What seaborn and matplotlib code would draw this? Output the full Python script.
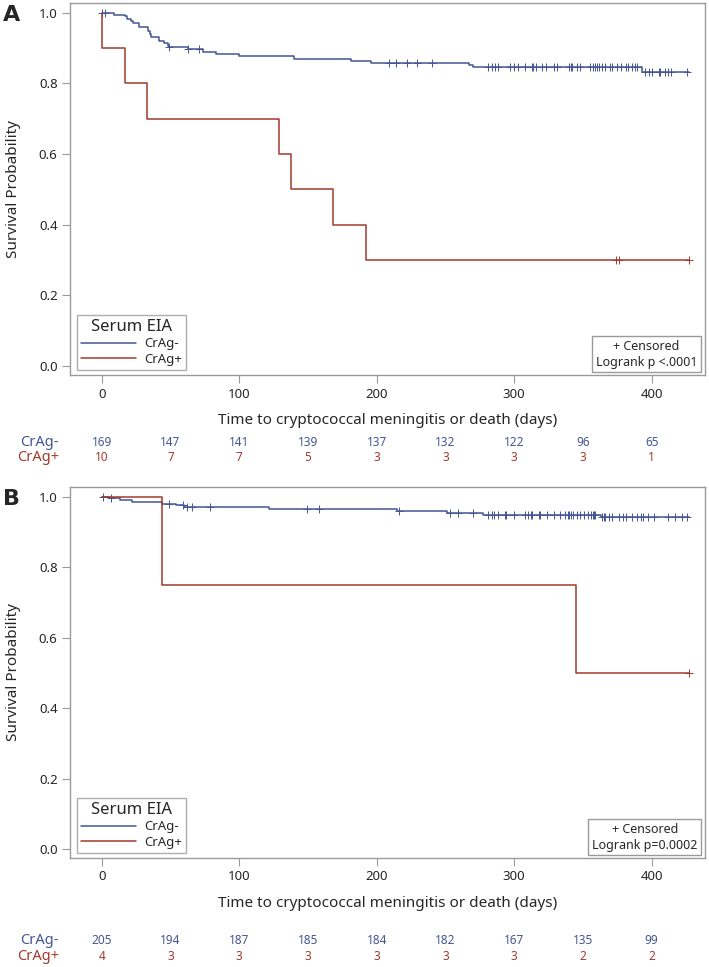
import numpy as np
import matplotlib
matplotlib.use("Agg")
import matplotlib.pyplot as plt
import matplotlib.transforms as mtransforms
from matplotlib.lines import Line2D
import seaborn as sns

sns.set_style("white")
plt.rcParams["font.family"] = ["Noto Sans", "DejaVu Sans"]

BLUE = "#445694"
RED = "#A23A2E"
GRAY = "#9a9a9a"

# ------------------------------------------------------------------
# Data
# ------------------------------------------------------------------
risk_times = [0, 50, 100, 150, 200, 250, 300, 350, 400]

# Panel A
a_neg_time = [0, 9, 17, 18, 21, 23, 27, 34, 35, 36, 42, 45, 48, 49, 63, 74, 83,
              100, 140, 181, 196, 267, 270, 393, 427]
a_neg_surv = [1.0, 0.993, 0.989, 0.982, 0.976, 0.970, 0.958, 0.949, 0.938, 0.932,
              0.920, 0.913, 0.906, 0.902, 0.896, 0.889, 0.883, 0.877, 0.870, 0.864,
              0.858, 0.852, 0.845, 0.831, 0.831]
a_neg_cens = [0, 2, 49, 63, 71, 209, 214, 222, 229, 240, 281, 284, 286, 288, 297,
              300, 303, 308, 313, 314, 316, 320, 323, 329, 331, 340, 341, 342, 346,
              348, 355, 357, 359, 360, 362, 364, 366, 370, 371, 375, 378, 381, 383,
              386, 388, 389, 395, 398, 400, 405, 406, 410, 412, 414, 426]
a_pos_time = [0, 0, 17, 33, 129, 138, 168, 192, 427]
a_pos_surv = [1.0, 0.9, 0.8, 0.7, 0.6, 0.5, 0.4, 0.3, 0.3]
a_pos_cens = [374, 376, 427]
a_risk_neg = [169, 147, 141, 139, 137, 132, 122, 96, 65]
a_risk_pos = [10, 7, 7, 5, 3, 3, 3, 3, 1]
a_pvalue = "Logrank p <.0001"

# Panel B
b_neg_time = [0, 5, 13, 22, 44, 54, 60, 122, 215, 251, 277, 363, 427]
b_neg_surv = [1.0, 0.997, 0.991, 0.985, 0.980, 0.975, 0.970, 0.964, 0.960, 0.954,
              0.949, 0.941, 0.941]
b_neg_cens = [1, 7, 49, 59, 62, 66, 79, 149, 158, 216, 253, 259, 270, 281, 284, 285,
              288, 293, 294, 300, 308, 310, 312, 313, 318, 319, 324, 329, 333, 337,
              339, 340, 341, 343, 346, 348, 351, 354, 356, 357, 358, 359, 364, 365,
              366, 369, 371, 376, 379, 381, 386, 389, 392, 394, 397, 402, 412, 417,
              422, 426]
b_pos_time = [0, 44, 345, 427]
b_pos_surv = [1.0, 0.75, 0.5, 0.5]
b_pos_cens = [427]
b_risk_neg = [205, 194, 187, 185, 184, 182, 167, 135, 99]
b_risk_pos = [4, 3, 3, 3, 3, 3, 3, 2, 2]
b_pvalue = "Logrank p=0.0002"

# ------------------------------------------------------------------
W, H = 709, 967
fig = plt.figure(figsize=(W / 100, H / 100), dpi=100)


def px_axes(left, top, right, bottom):
    return fig.add_axes([left / W, 1 - bottom / H, (right - left) / W, (bottom - top) / H])


def surv_at(times, surv, t):
    idx = np.searchsorted(np.array(times), t, side="right") - 1
    return np.array(surv)[idx]


def km_panel(ax, letter, neg_t, neg_s, neg_c, pos_t, pos_s, pos_c,
             risk_neg, risk_pos, ptext, top_px, bottom_px, row_px):
    sns.lineplot(x=neg_t, y=neg_s, drawstyle="steps-post", color=BLUE, lw=1.1,
                 estimator=None, sort=False, ax=ax)
    sns.lineplot(x=pos_t, y=pos_s, drawstyle="steps-post", color=RED, lw=1.1,
                 estimator=None, sort=False, ax=ax)
    sns.scatterplot(x=neg_c, y=surv_at(neg_t, neg_s, neg_c), marker="+", s=36,
                    color=BLUE, linewidth=0.7, ax=ax)
    sns.scatterplot(x=pos_c, y=surv_at(pos_t, pos_s, pos_c), marker="+", s=36,
                    color=RED, linewidth=0.7, ax=ax)

    ax.set_xlim(-23.1, 438.8)
    ax.set_ylim(-0.025, 1.027)
    ax.set_xticks([0, 100, 200, 300, 400])
    ax.set_yticks([0.0, 0.2, 0.4, 0.6, 0.8, 1.0])
    ax.set_yticklabels(["0.0", "0.2", "0.4", "0.6", "0.8", "1.0"])
    ax.tick_params(axis="both", direction="out", length=6, width=0.8, color=GRAY,
                   labelsize=9.5, pad=3, left=True, bottom=True)
    for sp in ax.spines.values():
        sp.set_color(GRAY)
        sp.set_linewidth(1.0)

    ax.set_xlabel("Time to cryptococcal meningitis or death (days)", fontsize=11)
    ax.xaxis.set_label_coords(0.5, -(413 - 375) / 372)
    ax.set_ylabel("Survival Probability", fontsize=11)
    ax.yaxis.set_label_coords(-(70 - 21) / 635, 0.5)

    handles = [Line2D([], [], color=BLUE, lw=1.1), Line2D([], [], color=RED, lw=1.1)]
    leg = ax.legend(handles, ["CrAg-", "CrAg+"], title="Serum EIA", loc="lower left",
                    bbox_to_anchor=(0.011, 0.014), fontsize=9.5, title_fontsize=12,
                    frameon=True, fancybox=False, handlelength=4.2, handletextpad=0.6,
                    borderpad=0.3, labelspacing=0.2, borderaxespad=0)
    leg.get_frame().set_edgecolor(GRAY)
    leg.get_frame().set_linewidth(1.0)

    ax.text(0.988, 0.017, "+ Censored\n" + ptext, transform=ax.transAxes,
            ha="right", va="bottom", multialignment="center", fontsize=9,
            linespacing=1.3,
            bbox=dict(boxstyle="square,pad=0.3", fc="white", ec=GRAY, lw=1.0))

    fig.text(3 / W, 1 - (top_px + 12) / H, letter, fontsize=16, fontweight="bold",
             family="DejaVu Sans", va="center", ha="left")

    # number at risk table
    tr = mtransforms.blended_transform_factory(ax.transData, fig.transFigure)
    y_neg = 1 - row_px[0] / H
    y_pos = 1 - row_px[1] / H
    for t, n in zip(risk_times, risk_neg):
        ax.text(t, y_neg, str(n), transform=tr, ha="center", va="center",
                fontsize=8.5, color=BLUE)
    for t, n in zip(risk_times, risk_pos):
        ax.text(t, y_pos, str(n), transform=tr, ha="center", va="center",
                fontsize=8.5, color=RED)
    fig.text(59 / W, y_neg, "CrAg-", ha="right", va="center", fontsize=10.5, color=BLUE)
    fig.text(59 / W, y_pos, "CrAg+", ha="right", va="center", fontsize=10.5, color=RED)


axA = px_axes(70, 3, 705, 375)
km_panel(axA, "A", a_neg_time, a_neg_surv, a_neg_cens, a_pos_time, a_pos_surv,
         a_pos_cens, a_risk_neg, a_risk_pos, a_pvalue, 3, 375, (442, 458))

axB = px_axes(70, 487, 705, 858)
km_panel(axB, "B", b_neg_time, b_neg_surv, b_neg_cens, b_pos_time, b_pos_surv,
         b_pos_cens, b_risk_neg, b_risk_pos, b_pvalue, 487, 858, (940, 957))

fig.savefig("out.png", dpi=100)
